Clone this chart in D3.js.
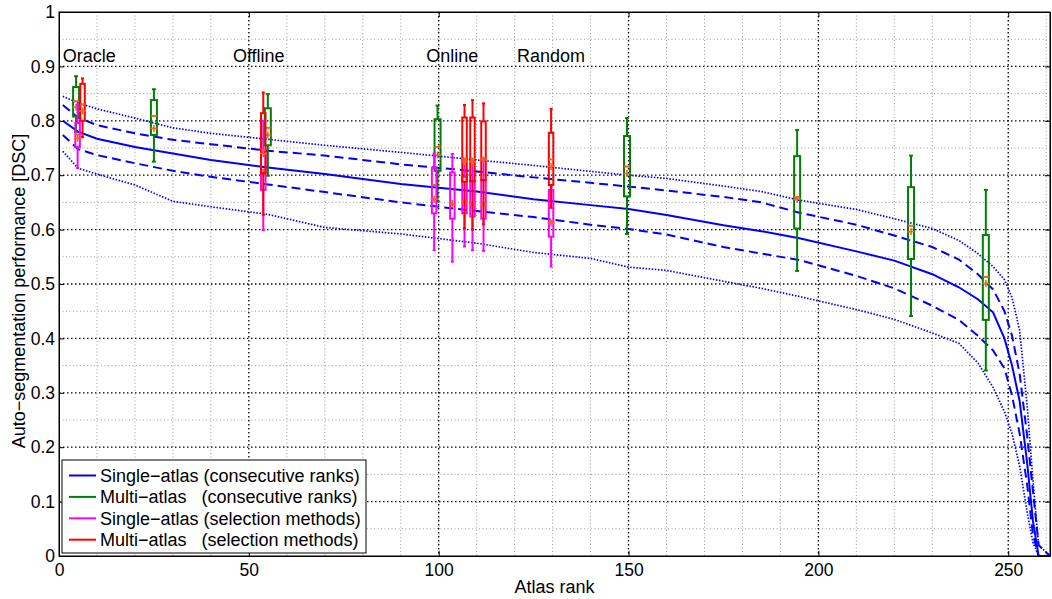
<!DOCTYPE html>
<html>
<head>
<meta charset="utf-8">
<script src="https://cdn.jsdelivr.net/npm/d3@7/dist/d3.min.js"></script>
<style>
  html, body { margin: 0; padding: 0; background: #fff; overflow: hidden; }
  svg { display: block; }
  text { font-family: "Liberation Sans", Arial, Helvetica, sans-serif; }
</style>
</head>
<body>
<svg id="chart"></svg>
<script>
// single-atlas curves (consecutive ranks)
var ranks   = [1, 5, 10, 20, 30, 40, 55, 70, 90, 110, 125, 140, 150, 160, 175, 185, 195, 210, 220, 230, 237, 242, 246, 249, 251, 253, 255, 256.5, 258, 261];
var meanDsc = [0.800, 0.780, 0.767, 0.752, 0.740, 0.728, 0.714, 0.702, 0.684, 0.670, 0.656, 0.645, 0.638, 0.627, 0.608, 0.597, 0.584, 0.560, 0.543, 0.518, 0.494, 0.472, 0.448, 0.400, 0.350, 0.285, 0.170, 0.065, 0, 0];
var stdHi   = [0.829, 0.806, 0.792, 0.777, 0.765, 0.757, 0.745, 0.736, 0.720, 0.707, 0.696, 0.686, 0.679, 0.672, 0.660, 0.650, 0.631, 0.609, 0.589, 0.568, 0.545, 0.518, 0.490, 0.450, 0.405, 0.335, 0.220, 0.120, 0.020, 0];
var stdLo   = [0.774, 0.748, 0.737, 0.722, 0.708, 0.697, 0.683, 0.669, 0.650, 0.634, 0.623, 0.609, 0.601, 0.591, 0.568, 0.556, 0.544, 0.515, 0.492, 0.460, 0.434, 0.405, 0.378, 0.345, 0.295, 0.225, 0.130, 0.040, 0, 0];
var extHi   = [0.845, 0.833, 0.822, 0.805, 0.787, 0.777, 0.766, 0.755, 0.742, 0.728, 0.718, 0.707, 0.700, 0.694, 0.680, 0.670, 0.654, 0.637, 0.620, 0.602, 0.580, 0.556, 0.532, 0.508, 0.475, 0.415, 0.275, 0.140, 0.020, 0];
var extLo   = [0.744, 0.713, 0.702, 0.682, 0.652, 0.642, 0.628, 0.604, 0.592, 0.575, 0.558, 0.547, 0.531, 0.525, 0.505, 0.492, 0.477, 0.453, 0.435, 0.410, 0.391, 0.355, 0.310, 0.265, 0.225, 0.165, 0.080, 0.025, 0, 0];

// multi-atlas boxplots (consecutive ranks)
var multiRanks = [4.5, 25, 55, 99.7, 149.6, 194.4, 224.4, 244.1];
var multiWHi   = [0.882, 0.858, 0.849, 0.828, 0.805, 0.783, 0.736, 0.673];
var multiQ3    = [0.862, 0.838, 0.823, 0.803, 0.772, 0.735, 0.678, 0.590];
var multiMed   = [0.836, 0.809, 0.787, 0.752, 0.716, 0.660, 0.607, 0.513];
var multiMean  = [0.825, 0.786, 0.774, 0.737, 0.703, 0.656, 0.596, 0.501];
var multiQ1    = [0.808, 0.774, 0.755, 0.708, 0.661, 0.602, 0.546, 0.434];
var multiWLo   = [0.780, 0.725, 0.699, 0.651, 0.592, 0.524, 0.441, 0.341];

// single-atlas selection methods
var selSingleRanks = [4.9, 53.8, 98.8, 103.6, 106.8, 108.9, 111.8, 129.6];
var selSingleWHi   = [0.830, 0.800, 0.740, 0.739, 0.730, 0.730, 0.730, 0.680];
var selSingleQ3    = [0.796, 0.743, 0.714, 0.705, 0.697, 0.689, 0.691, 0.673];
var selSingleMed   = [0.775, 0.710, 0.682, 0.646, 0.653, 0.648, 0.648, 0.615];
var selSingleMean  = [0.768, 0.705, 0.656, 0.648, 0.650, 0.645, 0.645, 0.612];
var selSingleQ1    = [0.752, 0.673, 0.630, 0.620, 0.630, 0.624, 0.620, 0.587];
var selSingleWLo   = [0.713, 0.599, 0.562, 0.541, 0.569, 0.562, 0.561, 0.532];

// multi-atlas selection methods
var selMultiRanks = [6.2, 53.8, 106.8, 108.9, 111.8, 129.6];
var selMultiWHi   = [0.878, 0.852, 0.829, 0.838, 0.832, 0.822];
var selMultiQ3    = [0.868, 0.814, 0.806, 0.806, 0.799, 0.778];
var selMultiMed   = [0.830, 0.746, 0.730, 0.730, 0.731, 0.729];
var selMultiMean  = [0.818, 0.740, 0.725, 0.725, 0.728, 0.716];
var selMultiQ1    = [0.800, 0.704, 0.688, 0.689, 0.691, 0.682];
var selMultiWLo   = [0.770, 0.627, 0.602, 0.600, 0.610, 0.640];

var methodLabels = ["Oracle", "Offline", "Online", "Random"];
var methodLabelX = [1, 45.8, 96.7, 120.6];

var legendLabels = ["Single\u2212atlas (consecutive ranks)", "Multi\u2212atlas   (consecutive ranks)",
                    "Single\u2212atlas (selection methods)", "Multi\u2212atlas   (selection methods)"];

var xTicks = [0, 50, 100, 150, 200, 250];
var yTicks = [0, 0.1, 0.2, 0.3, 0.4, 0.5, 0.6, 0.7, 0.8, 0.9, 1];

var blue = "#0000ff", green = "#008000", magenta = "#ff00ff", red = "#ff0000", orange = "#f5621e";

var margin = {top: 12, right: 2, bottom: 43, left: 59},
    width = 1052,
    height = 599,
    innerWidth = width - margin.left - margin.right,
    innerHeight = height - margin.top - margin.bottom;

var xScale = d3.scaleLinear().domain([0, 261]).range([0, innerWidth]);
var yScale = d3.scaleLinear().domain([0, 1]).range([innerHeight, 0]);

var svg = d3.select("#chart").attr("width", width).attr("height", height);
var g = svg.append("g").attr("transform", "translate(" + margin.left + "," + margin.top + ")");

// minor grid
var minorX = d3.range(10, 261, 10).filter(function(d) { return d % 50 !== 0; });
var minorY = d3.range(0.05, 1, 0.1);
g.append("g").selectAll("line").data(minorX).enter().append("line")
  .attr("x1", xScale).attr("x2", xScale).attr("y1", 0).attr("y2", innerHeight)
  .attr("stroke", "#9a9a9a").attr("stroke-width", 1).attr("stroke-dasharray", "1,2.5");
g.append("g").selectAll("line").data(minorY).enter().append("line")
  .attr("y1", yScale).attr("y2", yScale).attr("x1", 0).attr("x2", innerWidth)
  .attr("stroke", "#9a9a9a").attr("stroke-width", 1).attr("stroke-dasharray", "1,2.5");

// major grid
g.append("g").selectAll("line").data(xTicks.slice(1)).enter().append("line")
  .attr("x1", xScale).attr("x2", xScale).attr("y1", 0).attr("y2", innerHeight)
  .attr("stroke", "#000").attr("stroke-width", 1.3).attr("stroke-dasharray", "1.5,2.5");
g.append("g").selectAll("line").data(yTicks.slice(1, -1)).enter().append("line")
  .attr("y1", yScale).attr("y2", yScale).attr("x1", 0).attr("x2", innerWidth)
  .attr("stroke", "#000").attr("stroke-width", 1.3).attr("stroke-dasharray", "1.5,2.5");

// curves
function curve(values, dash, w) {
  var line = d3.line()
    .x(function(d, i) { return xScale(ranks[i]); })
    .y(function(d) { return yScale(d); });
  g.append("path").datum(values)
    .attr("d", line)
    .attr("fill", "none")
    .attr("stroke", blue)
    .attr("stroke-width", w)
    .attr("stroke-dasharray", dash);
}
curve(extHi, "1.5,1.6", 1.7);
curve(extLo, "1.5,1.6", 1.7);
curve(stdHi, "9,5", 2);
curve(stdLo, "9,5", 2);
curve(meanDsc, null, 2);

// boxplots
function boxes(rk, wLo, q1, med, mean, q3, wHi, color, boxW, capW) {
  var bg = g.append("g");
  rk.forEach(function(r, i) {
    var cx = xScale(r);
    bg.append("line").attr("x1", cx).attr("x2", cx)
      .attr("y1", yScale(wHi[i])).attr("y2", yScale(q3[i]))
      .attr("stroke", color).attr("stroke-width", 2);
    bg.append("line").attr("x1", cx).attr("x2", cx)
      .attr("y1", yScale(q1[i])).attr("y2", yScale(wLo[i]))
      .attr("stroke", color).attr("stroke-width", 2);
    [wHi[i], wLo[i]].forEach(function(v) {
      bg.append("line").attr("x1", cx - capW / 2).attr("x2", cx + capW / 2)
        .attr("y1", yScale(v)).attr("y2", yScale(v))
        .attr("stroke", color).attr("stroke-width", 2);
    });
    bg.append("rect")
      .attr("x", cx - boxW / 2).attr("width", boxW)
      .attr("y", yScale(q3[i])).attr("height", yScale(q1[i]) - yScale(q3[i]))
      .attr("fill", "none").attr("stroke", color).attr("stroke-width", 2);
    bg.append("line").attr("x1", cx - boxW / 2).attr("x2", cx + boxW / 2)
      .attr("y1", yScale(med[i])).attr("y2", yScale(med[i]))
      .attr("stroke", orange).attr("stroke-width", 2);
    var my = yScale(mean[i]);
    bg.append("path")
      .attr("d", "M" + (cx - 3.5) + "," + my + "H" + (cx + 3.5) + "M" + cx + "," + (my - 3.5) + "V" + (my + 3.5))
      .attr("stroke", orange).attr("stroke-width", 1.6);
  });
}
boxes(multiRanks, multiWLo, multiQ1, multiMed, multiMean, multiQ3, multiWHi, green, 6, 4);
boxes(selSingleRanks, selSingleWLo, selSingleQ1, selSingleMed, selSingleMean, selSingleQ3, selSingleWHi, magenta, 4.5, 3);
boxes(selMultiRanks, selMultiWLo, selMultiQ1, selMultiMed, selMultiMean, selMultiQ3, selMultiWHi, red, 4.5, 3);

// method labels
g.append("g").selectAll("text").data(methodLabels).enter().append("text")
  .attr("x", function(d, i) { return xScale(methodLabelX[i]); })
  .attr("y", yScale(0.908))
  .attr("font-size", "18px")
  .attr("fill", "#000")
  .text(function(d) { return d; });

// axes box
g.append("rect").attr("x", 0).attr("y", 0).attr("width", innerWidth).attr("height", innerHeight)
  .attr("fill", "none").attr("stroke", "#000").attr("stroke-width", 1);

var fmt = function(d) { return d === 0 ? "0" : d === 1 ? "1" : d.toFixed(1); };

var xAxisG = g.append("g").attr("class", "x axis")
  .attr("transform", "translate(0," + innerHeight + ")")
  .call(d3.axisBottom(xScale).tickValues(xTicks).tickSize(-5).tickPadding(8).tickSizeOuter(0));
var yAxisG = g.append("g").attr("class", "y axis")
  .call(d3.axisLeft(yScale).tickValues(yTicks).tickFormat(fmt).tickSize(-5).tickPadding(4).tickSizeOuter(0));

// inward ticks on top and right edges (no labels)
var topT = g.append("g").call(d3.axisTop(xScale).tickValues(xTicks).tickSize(-5).tickSizeOuter(0));
var rightT = g.append("g").attr("transform", "translate(" + innerWidth + ",0)")
  .call(d3.axisRight(yScale).tickValues(yTicks).tickSize(-5).tickSizeOuter(0));
topT.selectAll("text").remove();
rightT.selectAll("text").remove();

g.selectAll(".domain").attr("stroke", "#000");
g.selectAll(".tick line").attr("stroke", "#000");
g.selectAll(".axis text").attr("font-size", "17.5px").attr("fill", "#000")
  .attr("font-family", "'Liberation Sans', Arial, sans-serif");

// axis labels
g.append("text")
  .attr("x", innerWidth / 2)
  .attr("y", innerHeight + 37)
  .attr("text-anchor", "middle")
  .attr("font-size", "18px")
  .text("Atlas rank");

g.append("text")
  .attr("transform", "translate(-34," + (279) + ") rotate(-90)")
  .attr("text-anchor", "middle")
  .attr("font-size", "18px")
  .text("Auto\u2212segmentation performance [DSC]");

// legend
var legendColors = [blue, green, magenta, red];
var lg = g.append("g").attr("transform", "translate(3,448)");
lg.append("rect").attr("x", 0).attr("y", 0).attr("width", 304).attr("height", 93)
  .attr("fill", "#fff").attr("stroke", "#000").attr("stroke-width", 1);
legendLabels.forEach(function(lbl, i) {
  var yy = 15.5 + i * 21.4;
  lg.append("line").attr("x1", 7).attr("x2", 34).attr("y1", yy).attr("y2", yy)
    .attr("stroke", legendColors[i]).attr("stroke-width", 2);
  lg.append("text").attr("x", 38).attr("y", yy + 6.5)
    .attr("font-size", "18px")
    .style("white-space", "pre")
    .text(lbl);
});
</script>
</body>
</html>
